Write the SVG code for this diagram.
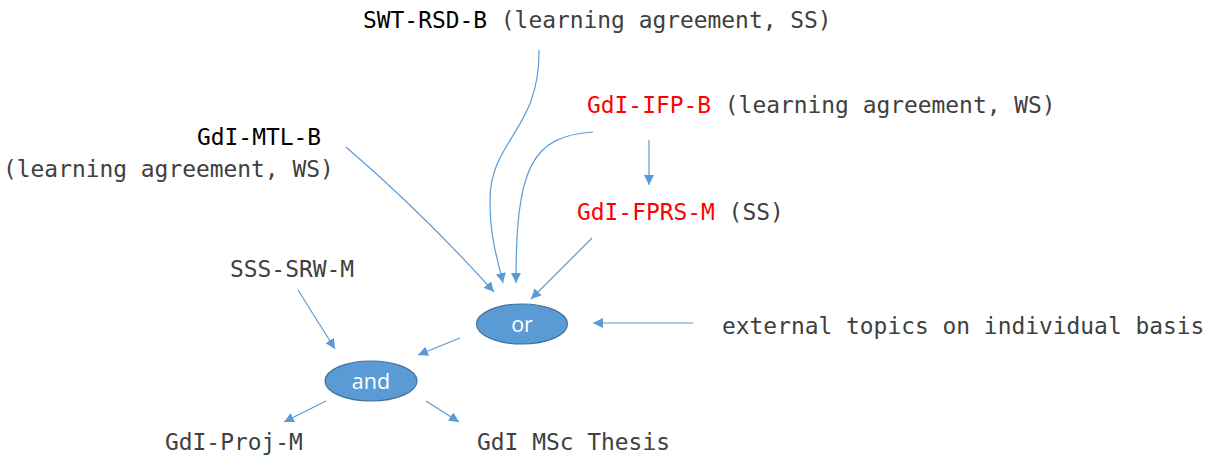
<svg xmlns="http://www.w3.org/2000/svg" width="1211" height="457" viewBox="0 0 1211 457">
<style>
.t{font-family:"DejaVu Sans Mono","Liberation Mono",monospace;font-size:22.9px;fill:#404040}
.k{fill:#000}
.r{fill:#ff0000}
.c{fill:none;stroke:#5b9bd5;stroke-width:1.2;marker-end:url(#ah)}
.e{fill:#5b9bd5;stroke:#41719c;stroke-width:1.2}
.et{font-family:"Open Sans","Liberation Sans",sans-serif;font-size:21.5px;fill:#fff;text-anchor:middle}
</style>
<defs>
<marker id="ah" viewBox="0 0 10 10" refX="10" refY="5" markerWidth="10" markerHeight="10" markerUnits="userSpaceOnUse" orient="auto">
<path d="M0,0 L10,5 L0,10 z" fill="#5b9bd5"/>
</marker>
</defs>
<rect width="1211" height="457" fill="#fff"/>
<g id="connectors">
<path class="c" d="M539,50 C540,130 490,140 490,200 C490,240 498,260 503,283"/>
<path class="c" d="M593,132 C530,136 516,170 516,283"/>
<path class="c" d="M346,147 Q425,215 494,292"/>
<path class="c" d="M592,238 L531,299"/>
<path class="c" d="M649,140 L649,185"/>
<path class="c" d="M693,323 L593,323"/>
<path class="c" d="M460,338 L418,355"/>
<path class="c" d="M298,290 L335,349"/>
<path class="c" d="M326,401 L284,422"/>
<path class="c" d="M426,401 L459,422"/>
</g>
<g id="swt"><text class="t" x="363" y="28"><tspan class="k">SWT-RSD-B</tspan> (learning agreement, SS)</text></g>
<g id="ifp"><text class="t" x="587" y="113"><tspan class="r">GdI-IFP-B</tspan> (learning agreement, WS)</text></g>
<g id="mtl"><text class="t" x="197" y="145"><tspan class="k">GdI-MTL-B</tspan></text><text class="t" x="3" y="177">(learning agreement, WS)</text></g>
<g id="fprs"><text class="t" x="577" y="220"><tspan class="r">GdI-FPRS-M</tspan> (SS)</text></g>
<g id="sss"><text class="t" x="230" y="277">SSS-SRW-M</text></g>
<g id="ext"><text class="t" x="722" y="334">external topics on individual basis</text></g>
<g id="or"><ellipse class="e" cx="522" cy="324" rx="45.5" ry="20"/><text class="et" x="522" y="332">or</text></g>
<g id="and"><ellipse class="e" cx="371" cy="381" rx="46" ry="20"/><text class="et" x="371" y="389">and</text></g>
<g id="proj"><text class="t" x="165" y="450">GdI-Proj-M</text></g>
<g id="thesis"><text class="t" x="477" y="450">GdI MSc Thesis</text></g>
</svg>
